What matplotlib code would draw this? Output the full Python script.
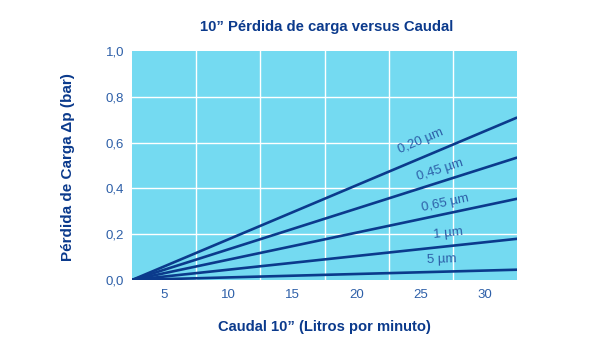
import numpy as np
import matplotlib.pyplot as plt

plt.rcParams['font.family'] = ['Liberation Sans', 'DejaVu Sans']

# caudal (l/min) and pressure drop (bar) for each pore size
caudal = [2.5, 32.5]
labels = ['0,20 µm', '0,45 µm', '0,65 µm', '1 µm', '5 µm']
perdida = [
    [0.0, 0.71],
    [0.0, 0.535],
    [0.0, 0.355],
    [0.0, 0.18],
    [0.0, 0.045],
]
label_x = [25.0, 26.5, 26.9, 27.1, 26.6]
label_off = [12.5, 9, 8, 9, 9]
xticks = [5, 10, 15, 20, 25, 30]
yticks = [0.0, 0.2, 0.4, 0.6, 0.8, 1.0]
ytick_labels = ['0,0', '0,2', '0,4', '0,6', '0,8', '1,0']

dark = '#0b3a8c'
light = '#2d5fa8'
bg = '#74daf1'

fig = plt.figure(figsize=(6, 3.5), dpi=100)
ax = fig.add_axes([0.22, 0.2, 0.642, 0.654])
ax.set_facecolor(bg)

for vals in perdida:
    ax.plot(caudal, vals, color=dark, lw=1.9, solid_capstyle='butt', zorder=3)

ax.set_xlim(2.5, 32.5)
ax.set_ylim(0, 1.0)

# white grid: vertical lines sit between the tick labels
for gx in [7.5, 12.5, 17.5, 22.5, 27.5]:
    ax.axvline(gx, color='white', lw=1.0, zorder=1)
for gy in [0.2, 0.4, 0.6, 0.8]:
    ax.axhline(gy, color='white', lw=1.0, zorder=1)

ax.tick_params(length=0, colors=light, labelsize=9.5)
ax.tick_params(axis='x', pad=6.5)
ax.tick_params(axis='y', pad=5.5)
ax.set_xticks(xticks)
ax.set_xticklabels([str(t) for t in xticks])
ax.set_yticks(yticks)
ax.set_yticklabels(ytick_labels)
for s in ax.spines.values():
    s.set_visible(False)

# labels along the lines
for lab, vals, lx, off in zip(labels, perdida, label_x, label_off):
    slope = (vals[1] - vals[0]) / (caudal[1] - caudal[0])
    ly = vals[0] + slope * (lx - caudal[0])
    p1 = ax.transData.transform((caudal[0], vals[0]))
    p2 = ax.transData.transform((caudal[1], vals[1]))
    ang = np.degrees(np.arctan2(p2[1] - p1[1], p2[0] - p1[0]))
    ax.annotate(lab, (lx, ly), xytext=(0, off), textcoords='offset points',
                rotation=ang, rotation_mode='anchor', ha='center', va='center',
                color=light, fontsize=9.5)

fig.text(0.544, 0.922, '10” Pérdida de carga versus Caudal', ha='center', va='center',
         color=dark, fontsize=10.7, fontweight='bold')
fig.text(0.54, 0.065, 'Caudal 10” (Litros por minuto)', ha='center', va='center',
         color=dark, fontsize=10.6, fontweight='bold')
fig.text(0.113, 0.523, 'Pérdida de Carga Δp (bar)', ha='center', va='center',
         rotation=90, color=dark, fontsize=11, fontweight='bold')

fig.savefig('out.png', dpi=100)
